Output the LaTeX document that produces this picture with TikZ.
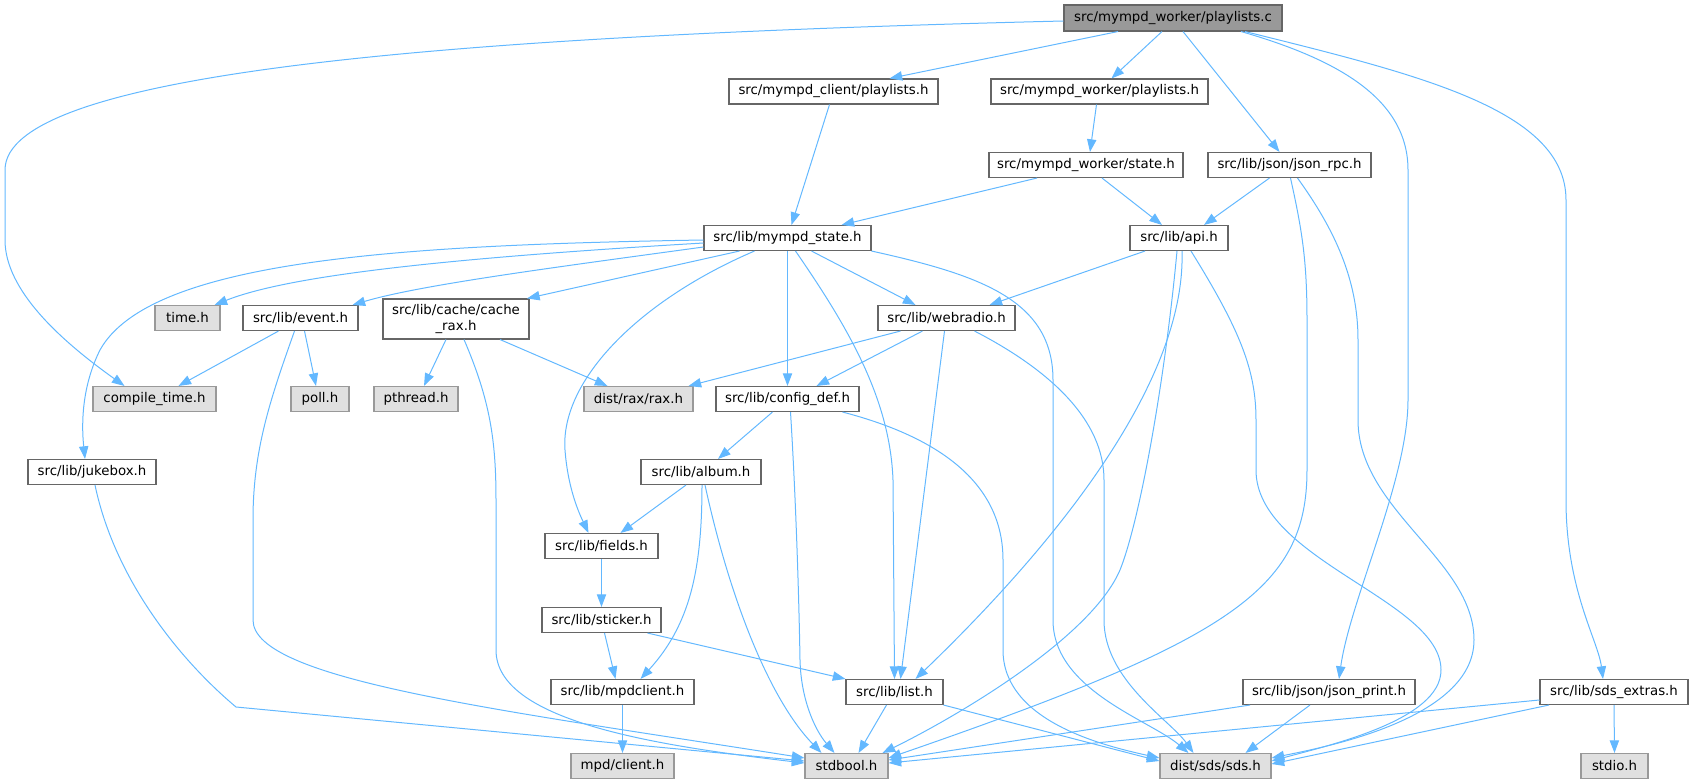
\documentclass[tikz,border=0pt]{standalone}
\usepackage{fontspec}
\setmainfont{DejaVu Sans}
\usetikzlibrary{arrows.meta,calc}
\definecolor{edgec}{HTML}{63B8FF}
\definecolor{bordw}{HTML}{666666}
\definecolor{bordg}{HTML}{999999}
\definecolor{fillg}{HTML}{E0E0E0}
\definecolor{rootc}{HTML}{999999}
\begin{document}
\begin{tikzpicture}[x=0.75pt,y=-0.75pt,
  base/.style={rectangle,inner sep=0pt,minimum height=18.75pt,font=\fontsize{10}{11.5}\selectfont,text=black,line width=0.8pt},
  wbox/.style={base,draw=bordw,fill=white},
  gbox/.style={base,draw=bordg,fill=fillg},
  rbox/.style={base,draw=bordw,fill=rootc,minimum height=19.5pt},
  bw/.style={minimum width=#1*0.75pt},
  edge/.style={draw=edgec,line width=0.75pt,-{Triangle[length=9.5pt,width=7pt]}}]
\useasboundingbox (0,0) rectangle (1693,784);
% nodes
\node[rbox,bw=218] (root) at (1173,18) {src/mympd\_worker/playlists.c};
\node[wbox,bw=209] (cpl) at (833.5,91.5) {src/mympd\_client/playlists.h};
\node[wbox,bw=217] (wpl) at (1099.5,91.5) {src/mympd\_worker/playlists.h};
\node[wbox,bw=194] (wst) at (1086,165) {src/mympd\_worker/state.h};
\node[wbox,bw=163] (rpc) at (1289.5,165) {src/lib/json/json\_rpc.h};
\node[wbox,bw=167] (mst) at (787.5,238) {src/lib/mympd\_state.h};
\node[wbox,bw=98] (api) at (1179,238) {src/lib/api.h};
\node[gbox,bw=65] (time) at (187.5,318) {time.h};
\node[wbox,bw=115] (event) at (300.5,318) {src/lib/event.h};
\node[wbox,bw=146,minimum height=30pt,align=center] (crax) at (456,319) {src/lib/cache/cache\\\_rax.h};
\node[wbox,bw=137] (webr) at (946.5,318) {src/lib/webradio.h};
\node[gbox,bw=123] (ctime) at (154.5,399) {compile\_time.h};
\node[gbox,bw=58] (poll) at (320,399) {poll.h};
\node[gbox,bw=84] (pthr) at (416,399) {pthread.h};
\node[gbox,bw=109] (rax) at (638.5,399) {dist/rax/rax.h};
\node[wbox,bw=143] (cdef) at (787.5,399) {src/lib/config\_def.h};
\node[wbox,bw=128] (juke) at (92,472) {src/lib/jukebox.h};
\node[wbox,bw=120] (album) at (701,472) {src/lib/album.h};
\node[wbox,bw=113] (fields) at (601.5,546) {src/lib/fields.h};
\node[wbox,bw=119] (stick) at (601.5,620) {src/lib/sticker.h};
\node[wbox,bw=143] (mpdc) at (622.5,692) {src/lib/mpdclient.h};
\node[wbox,bw=97] (list) at (894.5,692) {src/lib/list.h};
\node[wbox,bw=172] (jpr) at (1329,692) {src/lib/json/json\_print.h};
\node[wbox,bw=148] (sdsx) at (1614,692) {src/lib/sds\_extras.h};
\node[gbox,bw=103] (mpdcl) at (622.5,766) {mpd/client.h};
\node[gbox,bw=83] (stdb) at (846.5,766) {stdbool.h};
\node[gbox,bw=111] (sds) at (1215.5,766) {dist/sds/sds.h};
\node[gbox,bw=67] (stdio) at (1614.5,766) {stdio.h};
% edges from root
\draw[edge] ($(root.south)+(-55,0)$) -- ($(cpl.north)+(56,0)$);
\draw[edge] ($(root.south)+(-11,0)$) -- ($(wpl.north)+(12,0)$);
\draw[edge] ($(root.south)+(10,0)$) -- ($(rpc.north)+(-10,0)$);
\draw[edge] ($(root.south)+(68,0)$) .. controls (1340,60) and (1408,100) .. (1408,170) -- (1408,400) .. controls (1408,480) and (1350,600) .. ($(jpr.north)+(10,0)$);
\draw[edge] ($(root.south)+(72,0)$) .. controls (1420,75) and (1566,110) .. (1566,200) -- (1566,500) .. controls (1566,590) and (1598,640) .. ($(sdsx.north)+(-11,0)$);
\draw[edge] ($(root.west)+(0,3)$) .. controls (450,36) and (5,72) .. (5,170) -- (5,240) .. controls (5,290) and (60,340) .. ($(ctime.north)+(-30,0)$);
% second level
\draw[edge] ($(cpl.south)+(-4,0)$) -- ($(mst.north)+(4,0)$);
\draw[edge] ($(wpl.south)+(-3,0)$) -- ($(wst.north)+(4,0)$);
\draw[edge] ($(wst.south)+(-49,0)$) -- ($(mst.north)+(54,0)$);
\draw[edge] ($(wst.south)+(16,0)$) -- ($(api.north)+(-17,0)$);
\draw[edge] ($(rpc.south)+(-20,0)$) -- ($(api.north)+(25,0)$);
\draw[edge] ($(rpc.south)+(1,0)$) .. controls (1302,230) and (1307,260) .. (1307,320) -- (1307,470) .. controls (1307,590) and (1230,640) .. ($(stdb.east)+(0,-8)$);
\draw[edge] ($(rpc.south)+(8,0)$) .. controls (1335,230) and (1358,280) .. (1358,340) -- (1358,420) .. controls (1358,510) and (1474,560) .. (1474,640) .. controls (1474,720) and (1320,748) .. ($(sds.east)+(0,-8)$);
% api
\draw[edge] ($(api.south)+(-34,0)$) -- ($(webr.north)+(43,0)$);
\draw[edge] ($(api.south)+(3,0)$) .. controls (1186,380) and (1060,540) .. ($(list.north)+(21,0)$);
\draw[edge] ($(api.south)+(-2,0)$) .. controls (1165,380) and (1140,520) .. (1120,570) .. controls (1090,640) and (950,720) .. ($(stdb.north)+(36,0)$);
\draw[edge] ($(api.south)+(12,0)$) .. controls (1240,330) and (1256,370) .. (1256,420) -- (1256,470) .. controls (1256,560) and (1441,600) .. (1441,670) .. controls (1441,720) and (1330,745) .. ($(sds.east)+(0,-5)$);
% mympd_state
\draw[edge] ($(mst.south)+(24,0)$) -- ($(webr.north)+(-31,0)$);
\draw[edge] (mst.south) -- (cdef.north);
\draw[edge] ($(mst.south)+(8,0)$) .. controls (850,330) and (890,400) .. (893,480) -- (list.north);
\draw[edge] (mst.south east) .. controls (980,275) and (1053,300) .. (1053,380) -- (1053,620) .. controls (1053,690) and (1150,720) .. ($(sds.north)+(-27,0)$);
\draw[edge] ($(mst.south)+(-33,0)$) .. controls (640,300) and (560,380) .. (565,450) .. controls (568,490) and (580,515) .. ($(fields.north)+(-13,0)$);
\draw[edge] ($(mst.west)+(0,2)$) .. controls (400,245) and (150,260) .. (100,350) .. controls (80,390) and (82,430) .. ($(juke.north)+(-7,0)$);
\draw[edge] ($(mst.west)+(0,5)$) .. controls (450,258) and (290,275) .. ($(time.north)+(27,0)$);
\draw[edge] ($(mst.west)+(0,9)$) .. controls (550,268) and (420,285) .. ($(event.north)+(52,0)$);
\draw[edge] ($(mst.south)+(-48,0)$) -- ($(crax.north)+(71,0)$);
% event, cache
\draw[edge] ($(event.south)+(-22,0)$) -- ($(ctime.north)+(24,0)$);
\draw[edge] ($(event.south)+(4,0)$) -- ($(poll.north)+(-4,0)$);
\draw[edge] ($(event.south)+(-6,0)$) .. controls (270,400) and (253,450) .. (253,520) -- (253,620) .. controls (253,680) and (500,710) .. ($(stdb.west)+(0,-8)$);
\draw[edge] ($(crax.south)+(-10,0)$) -- ($(pthr.north)+(8,0)$);
\draw[edge] ($(crax.south)+(44,0)$) -- ($(rax.north)+(-31,0)$);
\draw[edge] ($(crax.south)+(8,0)$) .. controls (490,400) and (496,440) .. (496,500) -- (496,650) .. controls (496,720) and (650,745) .. ($(stdb.west)+(0,-3)$);
\draw[edge] ($(juke.south)+(3,0)$) .. controls (115,580) and (180,660) .. (236,707) -- ($(stdb.west)+(0,-5)$);
% webradio
\draw[edge] ($(webr.south)+(-46,0)$) -- ($(rax.north)+(50,0)$);
\draw[edge] ($(webr.south)+(-24,0)$) -- ($(cdef.north)+(29,0)$);
\draw[edge] ($(webr.south)+(-2,0)$) -- ($(list.north)+(6,0)$);
\draw[edge] ($(webr.south)+(28,0)$) .. controls (1050,370) and (1104,420) .. (1104,480) -- (1104,620) .. controls (1104,680) and (1170,720) .. ($(sds.north)+(-22,0)$);
% config_def
\draw[edge] ($(cdef.south)+(-15,0)$) -- ($(album.north)+(17,0)$);
\draw[edge] ($(cdef.south)+(3,0)$) .. controls (796,500) and (799,600) .. (800,660) .. controls (801,700) and (815,730) .. ($(stdb.north)+(-12,0)$);
\draw[edge] ($(cdef.south)+(55,0)$) .. controls (950,440) and (1003,490) .. (1003,560) -- (1003,650) .. controls (1003,720) and (1100,745) .. ($(sds.west)+(0,-8)$);
% album
\draw[edge] ($(album.south)+(-15,0)$) -- ($(fields.north)+(19,0)$);
\draw[edge] ($(album.south)+(1,0)$) .. controls (702,570) and (690,625) .. ($(mpdc.north)+(18,0)$);
\draw[edge] ($(album.south)+(4,0)$) .. controls (730,600) and (770,700) .. ($(stdb.north)+(-25,0)$);
% lower
\draw[edge] (fields.south) -- (stick.north);
\draw[edge] ($(stick.south)+(3,0)$) -- ($(mpdc.north)+(-7,0)$);
\draw[edge] ($(stick.south)+(46,0)$) -- (list.north west);
\draw[edge] (mpdc.south) -- (mpdcl.north);
\draw[edge] ($(list.south)+(-8,0)$) -- ($(stdb.north)+(12,0)$);
\draw[edge] (list.south east) -- ($(sds.west)+(0,-5)$);
\draw[edge] ($(jpr.south)+(-79,0)$) -- ($(stdb.east)+(0,-6)$);
\draw[edge] ($(jpr.south)+(-19,0)$) -- ($(sds.north)+(30,0)$);
\draw[edge] ($(sdsx.west)+(0,8)$) -- ($(stdb.east)+(0,-3)$);
\draw[edge] ($(sdsx.south)+(-65,0)$) -- ($(sds.east)+(0,-2)$);
\draw[edge] (sdsx.south) -- (stdio.north);
\end{tikzpicture}
\end{document}
